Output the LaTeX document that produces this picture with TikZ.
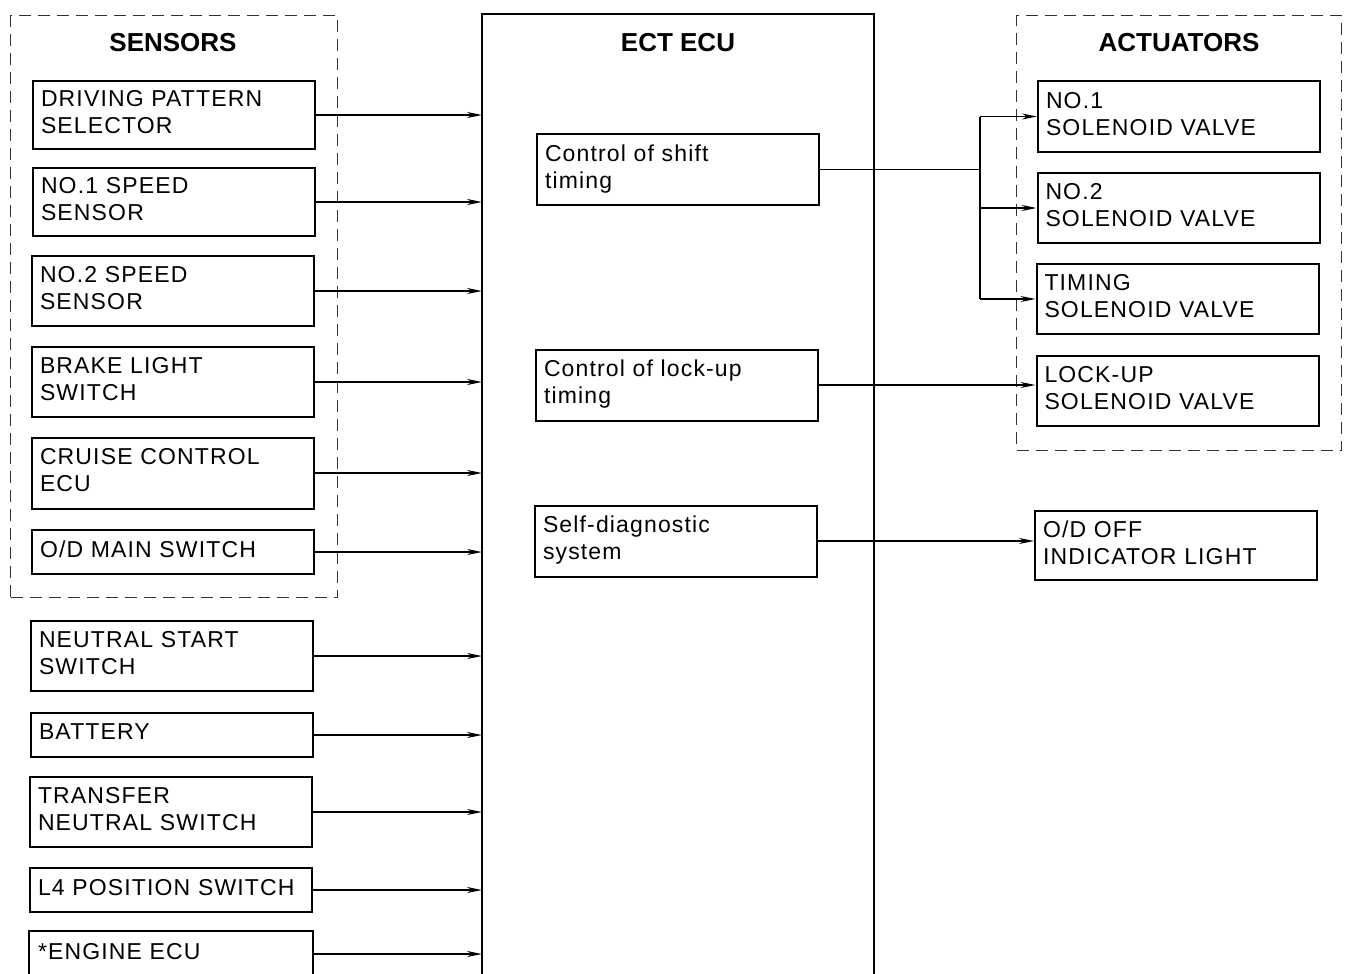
\documentclass[tikz,border=0pt]{standalone}
\usepackage{fontspec}
\setmainfont{Liberation Sans}
\newfontfamily\boxfont[LetterSpace=5]{Liberation Sans}
\usetikzlibrary{arrows.meta}
\newcommand\lowstrut{\rule[-6pt]{0pt}{6pt}}
\tikzset{
  boxline/.style={line width=2pt},
  blk/.style={draw, boxline, rectangle, inner xsep=8pt, inner ysep=0pt, align=left,
    font=\boxfont\fontsize{23}{27}\selectfont, text width=266pt, minimum width=282pt,
    execute at end node=\lowstrut},
  arr/.style={line width=1.6pt, -{Stealth[length=15pt,width=6pt]}},
  wire/.style={line width=1.6pt},
  dbox/.style={draw=black!80, line width=1.4pt, dash pattern=on 12pt off 7pt, inner sep=0pt, anchor=north west},
  ttl/.style={font=\bfseries\fontsize{26}{29}\selectfont, inner sep=0pt},
}
\begin{document}
\begin{tikzpicture}[x=1pt,y=-1pt]
\useasboundingbox (0,0) rectangle (1346,974);
\coordinate (bot) at (0,974);
% group frames
\node[dbox, minimum width=327pt, minimum height=582pt] (sens) at (10,15) {};
\node[dbox, minimum width=325pt, minimum height=435pt] (act) at (1016,15) {};
\node[ttl] (tsens) at (173,43) {SENSORS};
\node[ttl] (tact) at (1179,43) {ACTUATORS};
% ECU
\node[inner sep=0pt, minimum width=392pt, minimum height=960pt, anchor=north west] (ecu) at (482,14) {};
\draw[boxline] (ecu.south west) -- (ecu.north west) -- (ecu.north east) -- (ecu.south east);
\node[ttl] (tecu) at (678,43) {ECT ECU};
% sensors
\node[blk, minimum height=68pt] (s1) at (174,115) {DRIVING PATTERN\\SELECTOR};
\node[blk, minimum height=68pt] (s2) at (174,202) {NO.1 SPEED\\SENSOR};
\node[blk, minimum height=70pt] (s3) at (173,291) {NO.2 SPEED\\SENSOR};
\node[blk, minimum height=70pt] (s4) at (173,382) {BRAKE LIGHT\\SWITCH};
\node[blk, minimum height=71pt] (s5) at (173,473) {CRUISE CONTROL\\ECU};
\node[blk, minimum height=44pt] (s6) at (173,552) {O/D MAIN SWITCH};
\node[blk, minimum height=70pt] (s7) at (172,656) {NEUTRAL START\\SWITCH};
\node[blk, minimum height=44pt] (s8) at (172,735) {BATTERY};
\node[blk, minimum height=70pt] (s9) at (171,812) {TRANSFER\\NEUTRAL SWITCH};
\node[blk, minimum height=44pt] (s10) at (171,890) {L4 POSITION SWITCH};
\node[blk, draw=none, minimum height=44pt] (s11) at (171,954) {*ENGINE ECU};
\draw[boxline] (s11.west |- bot) -- (s11.north west) -- (s11.north east) -- (s11.east |- bot);
\foreach \s in {s1,s2,s3,s4,s5,s6,s7,s8,s9,s10,s11}
  \draw[arr] (\s.east) -- (\s.east -| ecu.west);
% ECU functions
\node[blk, minimum height=71pt] (c1) at (678,169.5) {Control of shift\\timing};
\node[blk, minimum height=71pt] (c2) at (677,385) {Control of lock-up\\timing};
\node[blk, minimum height=71pt] (c3) at (676,541) {Self-diagnostic\\system};
% actuators
\node[blk, minimum height=71pt] (a1) at (1179,116.5) {NO.1\\SOLENOID VALVE};
\node[blk, minimum height=70pt] (a2) at (1178.5,208) {NO.2\\SOLENOID VALVE};
\node[blk, minimum height=70pt] (a3) at (1177.5,299) {TIMING\\SOLENOID VALVE};
\node[blk, minimum height=70pt] (a4) at (1177.5,391) {LOCK-UP\\SOLENOID VALVE};
\node[blk, minimum height=69pt] (a5) at (1176,545.5) {O/D OFF\\INDICATOR LIGHT};
% connections
\coordinate (j) at (980,169);
\draw[wire] (c1.east) -- (c1.east -| j);
\draw[wire] (j |- a1.west) -- (j |- a3.west);
\draw[arr] (j |- a1.west) -- (a1.west);
\draw[arr] (j |- a2.west) -- (a2.west);
\draw[arr] (j |- a3.west) -- (a3.west);
\draw[arr] (c2.east) -- (c2.east -| a4.west);
\draw[arr] (c3.east) -- (c3.east -| a5.west);
\end{tikzpicture}
\end{document}
